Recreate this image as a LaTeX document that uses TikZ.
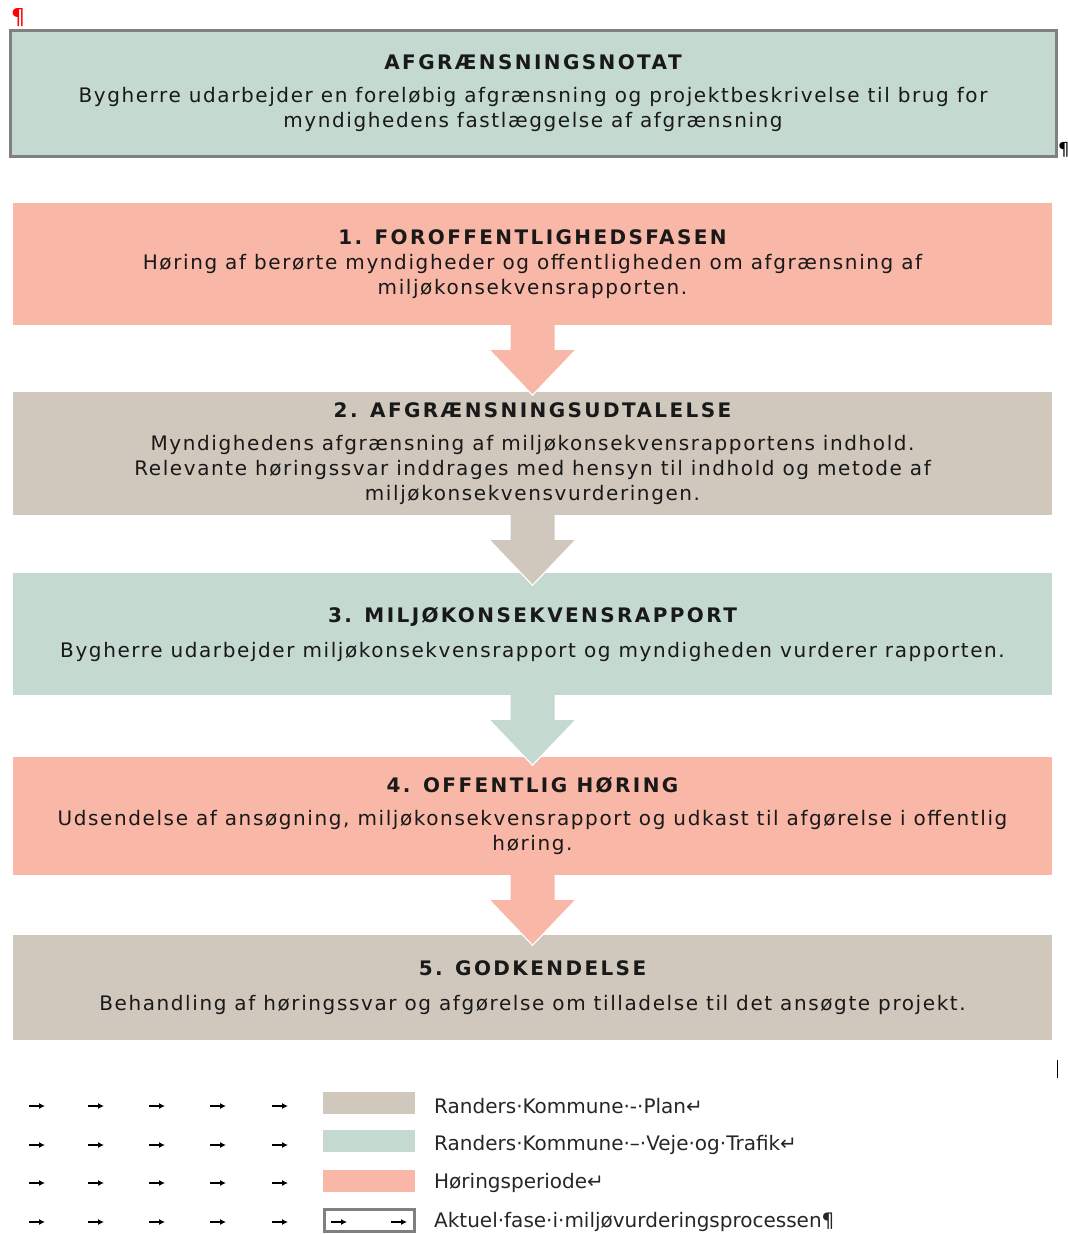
\documentclass[tikz,border=0pt]{standalone}
\usepackage{fontspec}
\setmainfont{DejaVu Sans}[LetterSpace=8]
\newfontfamily\legfont{DejaVu Sans}
\usetikzlibrary{calc,arrows.meta}
\definecolor{salmon}{HTML}{F8B7A7}
\definecolor{beige}{HTML}{D0C8BD}
\definecolor{sage}{HTML}{C4D9CF}
\definecolor{frame}{HTML}{808080}
\tikzset{
  phase/.style={minimum width=1039pt, minimum height=#1, inner sep=0pt, align=center, font=\fontsize{20}{25}\selectfont, text=black!90},
  tabmark/.style={-{Latex[length=6pt,width=6pt]}, line width=1.3pt},
  legtext/.style={anchor=west, font=\legfont\fontsize{20}{22}\selectfont, text=black!85, inner sep=0pt},
  swatch/.style={minimum width=92pt, minimum height=22pt, inner sep=0pt, draw=none}
}
\newcommand{\ttl}[1]{{\bfseries\addfontfeature{LetterSpace=12}#1}}
\newcommand{\flowarr}[2]{%
  \fill[#2] ($(#1.south)+(-22,0)$) -- ($(#1.south)+(22,0)$) -- ++(0,25) -- ++(21,0)
     -- ($(#1.south)+(0,70)$) -- ++(-43,-45) -- ++(21,0) -- cycle;
  \draw[white, line width=1.2pt] ($(#1.south)+(43,25)$) -- ($(#1.south)+(0,70)$) -- ($(#1.south)+(-43,25)$);
}
\begin{document}
\begin{tikzpicture}[x=1pt,y=-1pt]
\useasboundingbox (0,0) rectangle (1068,1234);
% top box
\node[phase=126pt, fill=sage, draw=frame, line width=3pt, minimum width=1046pt] (top) at (533,93)
 {\ttl{AFGRÆNSNINGSNOTAT}\\[8pt]Bygherre udarbejder en foreløbig afgrænsning og projektbeskrivelse til brug for\\myndighedens fastlæggelse af afgrænsning};
\node[text=red, font=\fontsize{22}{22}\selectfont, inner sep=0pt] (p1) at (18,18) {¶};
\node[font=\fontsize{18}{18}\selectfont, inner sep=0pt, anchor=west] (p2) at (1058,150) {¶};
% phases
\node[phase=122pt, fill=salmon] (b1) at (532.5,264)
 {\ttl{1. FOROFFENTLIGHEDSFASEN}\\Høring af berørte myndigheder og offentligheden om afgrænsning af\\miljøkonsekvensrapporten.};
\node[phase=123pt, fill=beige] (b2) at (532.5,453.5)
 {\ttl{2. AFGRÆNSNINGSUDTALELSE}\\[8pt]Myndighedens afgrænsning af miljøkonsekvensrapportens indhold.\\Relevante høringssvar inddrages med hensyn til indhold og metode af\\miljøkonsekvensvurderingen.};
\node[phase=122pt, fill=sage] (b3) at (532.5,634)
 {\ttl{3. MILJØKONSEKVENSRAPPORT}\\[10pt]Bygherre udarbejder miljøkonsekvensrapport og myndigheden vurderer rapporten.};
\node[phase=118pt, fill=salmon] (b4) at (532.5,816)
 {\ttl{4. OFFENTLIG HØRING}\\[8pt]Udsendelse af ansøgning, miljøkonsekvensrapport og udkast til afgørelse i offentlig\\høring.};
\node[phase=105pt, fill=beige] (b5) at (532.5,987.5)
 {\ttl{5. GODKENDELSE}\\[10pt]Behandling af høringssvar og afgørelse om tilladelse til det ansøgte projekt.};
% arrows
\flowarr{b1}{salmon}
\flowarr{b2}{beige}
\flowarr{b3}{sage}
\flowarr{b4}{salmon}
% cursor mark
\draw[line width=1pt] (1057,1060) -- (1057,1078);
% legend
\foreach \yy in {1106,1145,1183,1222}{
  \foreach \xx in {38,97,158,219,281}{
    \draw[tabmark] (\xx-9,\yy) -- (\xx+7,\yy);
  }
}
\node[swatch, fill=beige] (s1) at (369,1103) {};
\node[swatch, fill=sage] (s2) at (369,1141) {};
\node[swatch, fill=salmon] (s3) at (369,1181) {};
\node[swatch, draw=frame, line width=3pt, minimum height=22pt, minimum width=90pt] (s4) at (369,1220) {};
\draw[tabmark] (331,1222) -- (347,1222);
\draw[tabmark] (391,1222) -- (407,1222);
\node[legtext] (l1) at (434,1106) {Randers·Kommune·-·Plan↵};
\node[legtext] (l2) at (434,1145) {Randers·Kommune·–·Veje·og·Trafik↵};
\node[legtext] (l3) at (434,1183) {Høringsperiode↵};
\node[legtext] (l4) at (434,1222) {Aktuel·fase·i·miljøvurderingsprocessen¶};
\end{tikzpicture}
\end{document}
